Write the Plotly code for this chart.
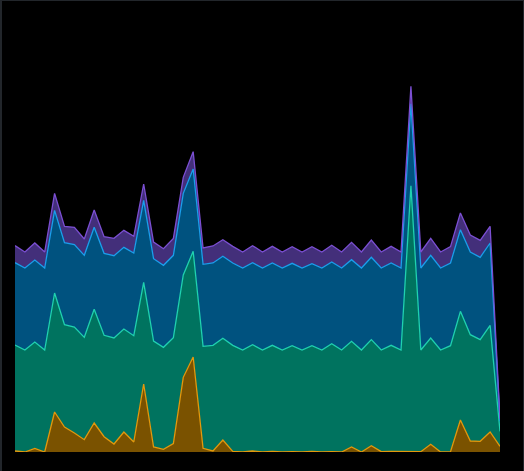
import plotly.graph_objects as go

# Stacked area values (arbitrary units), 50 samples
x = list(range(50))

orange = [3, 0, 11, 0, 120, 75, 57, 37, 87, 46,
          24, 60, 30, 204, 15, 8, 25, 224, 285, 11,
          3, 36, 2, 0, 3, 0, 2, 0, 1, 0,
          2, 0, 1, 0, 15, 0, 19, 1, 2, 1,
          2, 1, 23, 0, 1, 96, 33, 32, 60, 17]

teal = [318, 306, 319, 306, 357, 307, 318, 307, 341, 304,
        318, 309, 319, 305, 318, 306, 318, 307, 317, 306,
        317, 305, 318, 306, 319, 306, 318, 306, 318, 306,
        317, 306, 324, 306, 317, 306, 318, 305, 318, 305,
        797, 305, 319, 306, 318, 326, 319, 305, 320, 45]

blue = [247, 246, 246, 246, 248, 246, 247, 246, 246, 246,
        247, 245, 248, 246, 247, 246, 247, 245, 247, 246,
        247, 246, 247, 246, 246, 246, 247, 246, 247, 246,
        246, 246, 245, 246, 245, 246, 247, 246, 247, 246,
        246, 246, 248, 246, 248, 245, 248, 247, 247, 30]

purple = [51, 48, 51, 48, 51, 49, 52, 49, 52, 50,
          52, 51, 50, 49, 50, 50, 51, 48, 52, 49,
          51, 50, 50, 48, 51, 48, 50, 48, 50, 48,
          51, 48, 50, 48, 52, 48, 52, 48, 50, 48,
          52, 48, 51, 48, 49, 50, 51, 51, 50, 7]

series = [
    ("A", orange, "#e3980c", "#7a5200"),
    ("B", teal, "#1fd1b0", "#00735f"),
    ("C", blue, "#1a9fec", "#00527f"),
    ("D", purple, "#7b4fd2", "#432f7a"),
]

fig = go.Figure()
for name, vals, line_c, fill_c in series:
    fig.add_trace(go.Scatter(
        x=x, y=vals, name=name, mode="lines",
        stackgroup="one",
        line=dict(color=line_c, width=1.3),
        fillcolor=fill_c,
        hoverinfo="skip",
    ))

L, R, B = -15/485, 509/485, -19/452
border = "#22262b"
fig.update_layout(
    width=524, height=471,
    margin=dict(l=15, r=24, t=0, b=19),
    paper_bgcolor="#000000",
    plot_bgcolor="#000000",
    showlegend=False,
    xaxis=dict(range=[0, 49], visible=False, showgrid=False, zeroline=False),
    yaxis=dict(range=[0, 1356], visible=False, showgrid=False, zeroline=False),
    shapes=[
        dict(type="line", xref="paper", yref="paper", x0=L, x1=L, y0=B, y1=1,
             line=dict(color=border, width=4), layer="above"),
        dict(type="line", xref="paper", yref="paper", x0=L, x1=R, y0=1, y1=1,
             line=dict(color=border, width=2), layer="above"),
        dict(type="line", xref="paper", yref="paper", x0=R, x1=R, y0=B, y1=1,
             line=dict(color=border, width=2), layer="above"),
    ],
)

fig.write_html("out.html")
